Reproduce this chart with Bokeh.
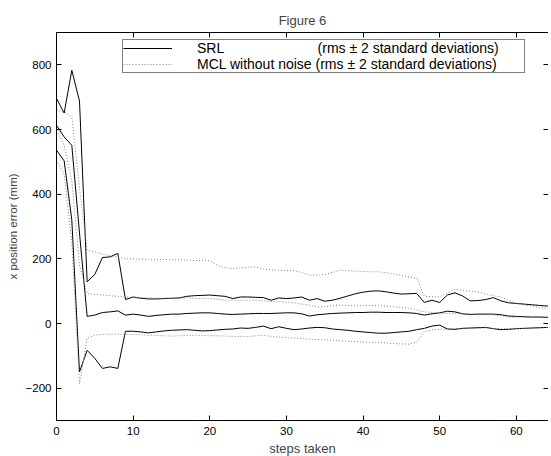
from bokeh.plotting import figure
from bokeh.models import ColumnDataSource, Legend, LegendItem, LinearAxis, FixedTicker, Range1d
from bokeh.embed import file_html
from bokeh.resources import INLINE

steps = list(range(66))

srl_upper = [696, 651, 783, 688, 129, 152, 204, 206, 217, 74,
             82, 78, 76, 76, 77, 78, 79, 84, 86, 87,
             88, 86, 84, 77, 82, 82, 81, 80, 72, 79,
             77, 79, 82, 72, 77, 69, 72, 78, 85, 92,
             97, 100, 101, 98, 94, 91, 92, 93, 65, 72,
             65, 88, 95, 85, 70, 71, 74, 80, 70, 64,
             62, 60, 58, 56, 54, 52]
srl_mid = [613, 577, 551, 280, 22, 26, 34, 36, 39, 26,
           29, 26, 22, 25, 27, 29, 29, 31, 32, 33,
           33, 31, 29, 28, 29, 30, 31, 31, 31, 32,
           33, 33, 30, 23, 27, 29, 31, 32, 33, 34,
           34, 35, 35, 34, 34, 34, 33, 31, 26, 30,
           33, 38, 36, 30, 28, 29, 29, 29, 27, 23,
           22, 21, 20, 20, 19, 19]
srl_lower = [536, 503, 320, -150, -83, -108, -139, -134, -139, -24,
             -24, -26, -29, -26, -23, -21, -20, -19, -21, -23,
             -22, -20, -18, -17, -14, -15, -12, -8, -16, -10,
             -15, -19, -17, -14, -12, -13, -17, -19, -21, -24,
             -26, -28, -30, -30, -28, -26, -24, -19, -15, -8,
             -5, -17, -18, -15, -14, -13, -12, -16, -19, -18,
             -16, -15, -14, -13, -12, -12]

mcl_upper = [660, 654, 639, 420, 227, 222, 215, 210, 205, 200,
             200, 199, 199, 198, 198, 197, 198, 196, 195, 195,
             194, 180, 172, 170, 172, 174, 175, 168, 166, 165,
             164, 163, 158, 149, 150, 151, 158, 165, 163, 162,
             161, 160, 160, 157, 153, 149, 144, 140, 84, 83,
             82, 95, 105, 103, 100, 98, 92, 86, 82, 72,
             62, 58, 54, 50, 46, 45]
mcl_mid = [598, 551, 440, 180, 93, 90, 88, 86, 84, 82,
           80, 80, 79, 78, 78, 78, 79, 79, 78, 77,
           77, 75, 72, 72, 72, 72, 72, 70, 68, 67,
           66, 64, 60, 57, 51, 52, 55, 57, 56, 55,
           55, 56, 55, 54, 52, 50, 47, 42, 36, 34,
           32, 31, 30, 30, 29, 29, 29, 27, 24, 20,
           20, 20, 20, 20, 20, 20]
mcl_lower = [505, 460, 250, -186, -46, -36, -34, -33, -33, -34,
             -34, -35, -36, -37, -38, -39, -38, -37, -36, -37,
             -38, -38, -39, -40, -40, -41, -38, -36, -40, -42,
             -44, -45, -46, -48, -50, -50, -52, -54, -55, -56,
             -57, -58, -58, -60, -62, -63, -64, -58, -25, -20,
             -18, -17, -16, -15, -15, -14, -14, -15, -16, -16,
             -15, -15, -14, -14, -13, -13]

x_ticks = [0, 10, 20, 30, 40, 50, 60]
y_ticks = [-200, 0, 200, 400, 600, 800]

FONT = "Liberation Sans"

src = ColumnDataSource(dict(x=steps, su=srl_upper, sm=srl_mid, sl=srl_lower,
                            mu=mcl_upper, mm=mcl_mid, ml=mcl_lower))

p = figure(frame_width=492, frame_height=388, output_backend="svg", toolbar_location=None,
           x_range=Range1d(0, 64.2), y_range=Range1d(-300, 900),
           min_border_left=56, min_border_right=0, min_border_top=32,
           min_border_bottom=0, title="Figure 6")
p.outline_line_color = None
p.xgrid.visible = False
p.ygrid.visible = False
p.background_fill_color = "white"
p.border_fill_color = "white"

p.title.align = "center"
p.title.text_font = FONT
p.title.text_font_size = "13px"
p.title.text_font_style = "normal"
p.title.standoff = 9

def style_axis(ax, ticks, labels=True):
    ax.ticker = FixedTicker(ticks=ticks)
    ax.major_tick_in = 5
    ax.major_tick_out = 0
    ax.minor_tick_in = 0
    ax.minor_tick_out = 0
    ax.axis_line_color = "black"
    ax.major_tick_line_color = "black"
    ax.axis_line_width = 1
    ax.major_label_text_font = FONT
    if labels:
        ax.major_label_text_color = "black"
        ax.major_label_text_font_size = "11.5px"
        ax.major_label_standoff = 6
    else:
        ax.major_label_text_color = None
        ax.major_label_text_font_size = "1px"
        ax.major_label_standoff = 0

style_axis(p.xaxis[0], x_ticks)
style_axis(p.yaxis[0], y_ticks)
p.xaxis[0].axis_label = "steps taken"
p.yaxis[0].axis_label = "x position error (mm)"
p.xaxis[0].axis_label_text_font_size = "13px"
p.yaxis[0].axis_label_text_font_size = "11.5px"
for ax in (p.xaxis[0], p.yaxis[0]):
    ax.axis_label_text_font = FONT
    ax.axis_label_text_font_style = "normal"
p.xaxis[0].axis_label_standoff = 3
p.yaxis[0].major_label_standoff = 5
p.yaxis[0].axis_label_standoff = 4

top_ax = LinearAxis()
style_axis(top_ax, x_ticks, labels=False)
p.add_layout(top_ax, "above")
right_ax = LinearAxis()
style_axis(right_ax, y_ticks, labels=False)
right_ax.axis_line_color = None
p.add_layout(right_ax, "right")

solid = dict(line_color="black", line_width=1)
dotted = dict(line_color="#808080", line_width=1, line_dash="1 2")

r_su = p.line("x", "su", source=src, **solid)
p.line("x", "sm", source=src, **solid)
p.line("x", "sl", source=src, **solid)
r_mu = p.line("x", "mu", source=src, **dotted)
p.line("x", "mm", source=src, **dotted)
p.line("x", "ml", source=src, **dotted)

nb = "\u00a0"
legend = Legend(items=[
    LegendItem(label="SRL" + nb * 24 + "(rms \u00b1 2 standard deviations)", renderers=[r_su]),
    LegendItem(label="MCL without noise (rms \u00b1 2 standard deviations)" + nb * 7, renderers=[r_mu]),
], location=(66, 347))
legend.label_text_font = FONT
legend.label_text_font_size = "14px"
legend.label_text_color = "black"
legend.label_text_line_height = 0.9
legend.padding = 0
legend.spacing = 0
legend.margin = 0
legend.glyph_width = 49
legend.glyph_height = 10
legend.label_height = 10
legend.label_standoff = 25
legend.border_line_color = "black"
legend.border_line_width = 1.5
legend.background_fill_color = "white"
legend.background_fill_alpha = 1
p.add_layout(legend, "center")

open("out.html", "w").write(file_html(p, INLINE))
